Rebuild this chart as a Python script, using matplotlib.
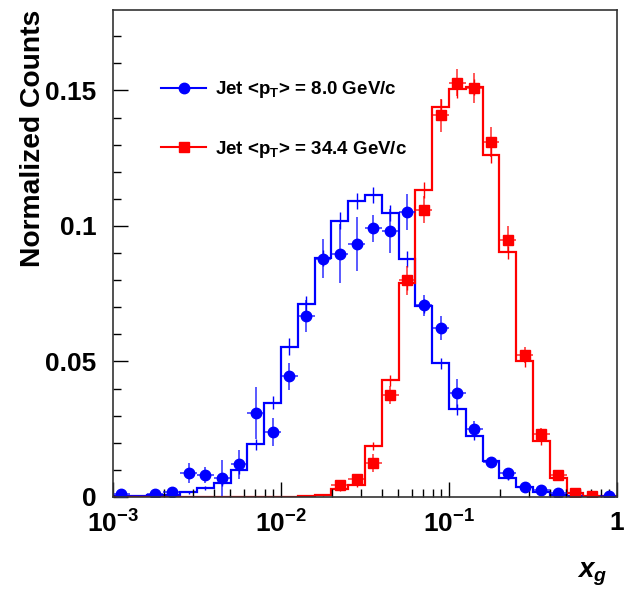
import numpy as np
import matplotlib
matplotlib.use("Agg")
import matplotlib.pyplot as plt
from matplotlib.lines import Line2D
from matplotlib.ticker import FixedLocator, FixedFormatter, LogLocator, MultipleLocator, NullFormatter

plt.rcParams['font.family'] = ['Liberation Sans', 'DejaVu Sans']
plt.rcParams['font.weight'] = 'bold'
plt.rcParams['mathtext.fontset'] = 'custom'
plt.rcParams['mathtext.rm'] = 'Liberation Sans:bold'
plt.rcParams['mathtext.bf'] = 'Liberation Sans:bold'
plt.rcParams['mathtext.it'] = 'Liberation Sans:italic:bold'
plt.rcParams['mathtext.bfit'] = 'Liberation Sans:italic:bold'

# ---- data ----
log_edges_start, log_edges_stop, n_bins = -3.0, 0.0, 30
edges = np.logspace(log_edges_start, log_edges_stop, n_bins + 1)

blue_hist = [0.0002, 0.0002, 0.0007, 0.0008, 0.0017, 0.0034, 0.0050, 0.0100, 0.0195, 0.0348,
             0.0555, 0.0713, 0.0883, 0.1020, 0.1092, 0.1113, 0.1049, 0.0879, 0.0704, 0.0493,
             0.0324, 0.0224, 0.0132, 0.0071, 0.0038, 0.0018, 0.0009, 0.0003, 0.0001, 0.0001]
blue_hist_err = [0.0002, 0.0002, 0.0004, 0.0004, 0.0006, 0.0008, 0.0010, 0.0015, 0.0020, 0.0025,
                 0.0030, 0.0030, 0.0030, 0.0030, 0.0030, 0.0030, 0.0030, 0.0030, 0.0025, 0.0020,
                 0.0020, 0.0015, 0.0010, 0.0008, 0.0005, 0.0004, 0.0003, 0.0002, 0.0001, 0.0001]

blue_pts = [0.0010, np.nan, 0.0010, 0.0020, 0.0090, 0.0080, 0.0070, 0.0120, 0.0310, 0.0240,
            0.0445, 0.0668, 0.0880, 0.0898, 0.0933, 0.0992, 0.0981, 0.1051, 0.0707, 0.0625,
            0.0382, 0.0252, 0.0128, 0.0089, 0.0038, 0.0025, 0.0015, 0.0003, np.nan, 0.0003]
blue_pts_err = [0.0010, 0.0, 0.0010, 0.0015, 0.0037, 0.0030, 0.0068, 0.0055, 0.0095, 0.0050,
                0.0050, 0.0060, 0.0073, 0.0110, 0.0100, 0.0050, 0.0080, 0.0066, 0.0040, 0.0044,
                0.0053, 0.0030, 0.0012, 0.0012, 0.0010, 0.0008, 0.0006, 0.0004, 0.0, 0.0004]

red_hist = [0.0001, 0.0001, 0.0001, 0.0001, 0.0001, 0.0001, 0.0001, 0.0001, 0.0001, 0.0001,
            0.0001, 0.0003, 0.0006, 0.0030, 0.0046, 0.0187, 0.0430, 0.0788, 0.1132, 0.1438,
            0.1504, 0.1512, 0.1261, 0.0903, 0.0501, 0.0206, 0.0071, 0.0015, 0.0005, 0.0002]
red_hist_err = [0.0, 0.0, 0.0, 0.0, 0.0, 0.0, 0.0, 0.0, 0.0, 0.0,
                0.0, 0.0002, 0.0003, 0.0008, 0.0010, 0.0015, 0.0020, 0.0025, 0.0030, 0.0030,
                0.0030, 0.0030, 0.0030, 0.0025, 0.0020, 0.0015, 0.0010, 0.0005, 0.0003, 0.0002]

red_pts = [np.nan] * 13 + [0.0045, 0.0065, 0.0126, 0.0376, 0.0800, 0.1060, 0.1408, 0.1528,
                           0.1508, 0.1309, 0.0950, 0.0525, 0.0234, 0.0082, 0.0013, 0.0003, np.nan]
red_pts_err = [0.0] * 13 + [0.0015, 0.0020, 0.0034, 0.0034, 0.0054, 0.0049, 0.0060, 0.0050,
                            0.0055, 0.0055, 0.0050, 0.0030, 0.0020, 0.0010, 0.0006, 0.0004, 0.0]

labels = [r"Jet <p$_{\mathbf{T}}$> = 8.0 GeV/c", r"Jet <p$_{\mathbf{T}}$> = 34.4 GeV/c"]
x_ticks = [1e-3, 1e-2, 1e-1, 1.0]
x_tick_labels = [r"$\mathbf{10^{-3}}$", r"$\mathbf{10^{-2}}$", r"$\mathbf{10^{-1}}$", r"$\mathbf{1}$"]
y_ticks = [0, 0.05, 0.1, 0.15]
y_tick_labels = ["0", "0.05", "0.1", "0.15"]

# ---- figure ----
fig = plt.figure(figsize=(6.29, 5.90), dpi=100)
ax = fig.add_axes([113 / 629, 1 - 497 / 590, 504 / 629, 487 / 590])

centers = np.sqrt(edges[:-1] * edges[1:])
xlo = centers - edges[:-1]
xhi = edges[1:] - centers

for hist, herr, pts, perr, col, mk, ms in [
        (blue_hist, blue_hist_err, blue_pts, blue_pts_err, (0, 0, 1), 'o', 7.5),
        (red_hist, red_hist_err, red_pts, red_pts_err, (1, 0, 0), 's', 6.5)]:
    ax.stairs(hist, edges, color=col, lw=1.6, baseline=0)
    ax.errorbar(centers, hist, yerr=herr, fmt='none', ecolor=col, elinewidth=1.0)
    pts = np.array(pts, dtype=float)
    ax.errorbar(centers, pts, yerr=perr, xerr=[xlo, xhi], fmt='none',
                ecolor=col + (0.65,), elinewidth=1.4)
    ax.plot(centers, pts, ls='none', marker=mk, ms=ms, color=col, mec=col)

ax.set_xscale('log')
ax.set_xlim(1e-3, 1.0)
ax.set_ylim(0, 0.1797)

ax.xaxis.set_major_locator(FixedLocator(x_ticks))
ax.xaxis.set_major_formatter(FixedFormatter(x_tick_labels))
ax.xaxis.set_minor_locator(LogLocator(base=10, subs=np.arange(2, 10)))
ax.xaxis.set_minor_formatter(NullFormatter())
ax.yaxis.set_major_locator(FixedLocator(y_ticks))
ax.yaxis.set_major_formatter(FixedFormatter(y_tick_labels))
ax.yaxis.set_minor_locator(MultipleLocator(0.01))

ax.tick_params(which='both', direction='in', top=False, right=False, width=1.0, color='black')
ax.tick_params(which='major', length=11)
ax.tick_params(which='minor', length=6)
ax.tick_params(axis='y', which='major', labelsize=19, pad=12)
ax.tick_params(axis='x', which='major', labelsize=19, pad=10)
for s in ax.spines.values():
    s.set_linewidth(1.2)
    s.set_color('#333333')

ax.set_ylabel("Normalized Counts", fontsize=20.3, fontweight='bold', loc='top')
ax.yaxis.set_label_coords(-0.133, 1.0)
ax.set_xlabel(r"$\mathbfit{x_{g}}$", fontsize=20, loc='right')
ax.xaxis.set_label_coords(0.982, -0.13)

handles = [Line2D([], [], color='blue', marker='o', ms=7.5, lw=1.5),
           Line2D([], [], color='red', marker='s', ms=6.5, lw=1.5)]
ax.legend(handles, labels, loc='upper left', bbox_to_anchor=(0.077, 0.877), frameon=False,
          fontsize=13.5, labelspacing=2.05, handlelength=2.4, handletextpad=0.48, borderpad=0)

fig.savefig("out.png", dpi=100)
